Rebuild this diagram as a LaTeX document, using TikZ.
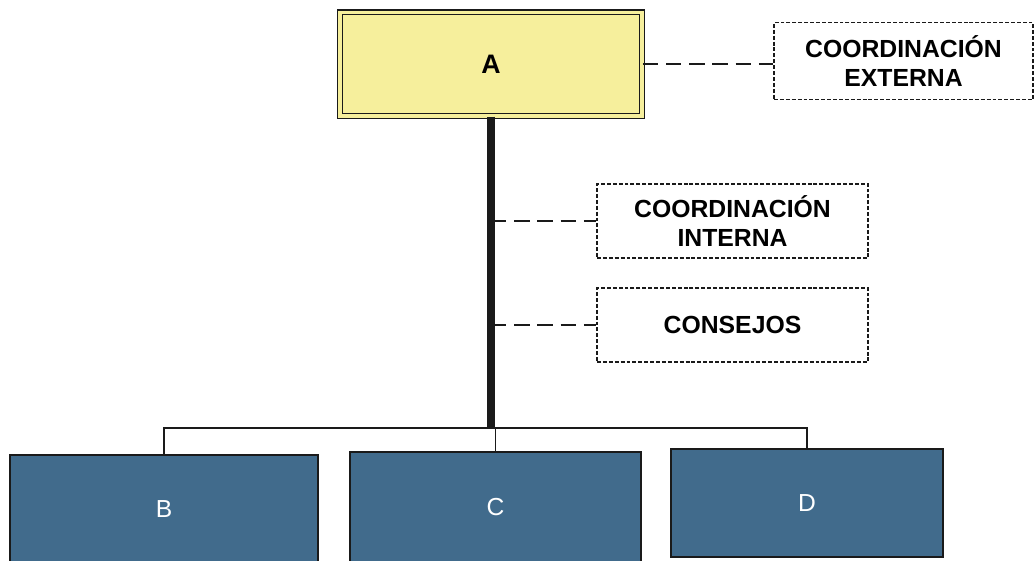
\documentclass[tikz,border=0pt]{standalone}
\usepackage{fontspec}
\setmainfont{Liberation Sans}
\usetikzlibrary{positioning}
\definecolor{orgyellow}{HTML}{F6EF9C}
\definecolor{orgblue}{HTML}{416B8C}
\definecolor{orgline}{HTML}{1A1A1A}
\tikzset{
  boxtop/.style ={draw=orgline, line width=1.1pt, double=orgyellow, double distance=2.4pt,
                  fill=orgyellow, minimum width=7.55cm, minimum height=2.59cm,
                  font=\fontsize{19}{23}\selectfont\bfseries},
  unit/.style   ={draw=orgline, line width=1.3pt, fill=orgblue, text=white,
                  font=\fontsize{17.5}{21}\selectfont},
  aux/.style    ={draw=orgline, line width=1.3pt, dash pattern=on 2.8pt off 1.4pt,
                  minimum width=6.8cm, minimum height=1.85cm, align=center,
                  font=\fontsize{17.6}{21}\selectfont\bfseries},
  link/.style   ={draw=orgline, line width=1pt, dash pattern=on 11pt off 5.5pt},
  trunk/.style  ={draw=orgline, line width=5pt},
  bus/.style    ={draw=orgline, line width=1pt},
}

\begin{document}
\begin{tikzpicture}[x=0.025cm, y=-0.025cm]
  \useasboundingbox (0,0) rectangle (1036,560);
  % top level
  \node[boxtop] (A) at (491,64) {A};
  \node[aux, minimum width=6.475cm, minimum height=1.925cm] (externa) at (903.5,61)
       {COORDINACIÓN\\EXTERNA};
  \node[aux, minimum width=6.775cm] (interna) at (732.5,221) {COORDINACIÓN\\INTERNA};
  \node[aux, minimum width=6.775cm] (consejos) at (732.5,325) {CONSEJOS};
  % units
  \node[unit, minimum width=7.7cm, minimum height=2.7cm] (B) at (164,509) {B};
  \node[unit, minimum width=7.275cm, minimum height=2.775cm] (C) at (495.5,507.5) {C};
  \node[unit, minimum width=6.8cm, minimum height=2.7cm] (D) at (807,503) {D};
  \coordinate (hub) at (491,428);
  % connectors
  \draw[trunk] (A.south) -- (hub);
  \draw[link] (A.east) -- (A.east -| externa.west);
  \draw[link] (interna.west -| hub) -- (interna.west);
  \draw[link] (consejos.west -| hub) -- (consejos.west);
  \draw[bus] (B.north) |- (hub) -| (D.north);
  \draw[bus] (hub) -- (hub -| C.north) -- (C.north);
\end{tikzpicture}
\end{document}
